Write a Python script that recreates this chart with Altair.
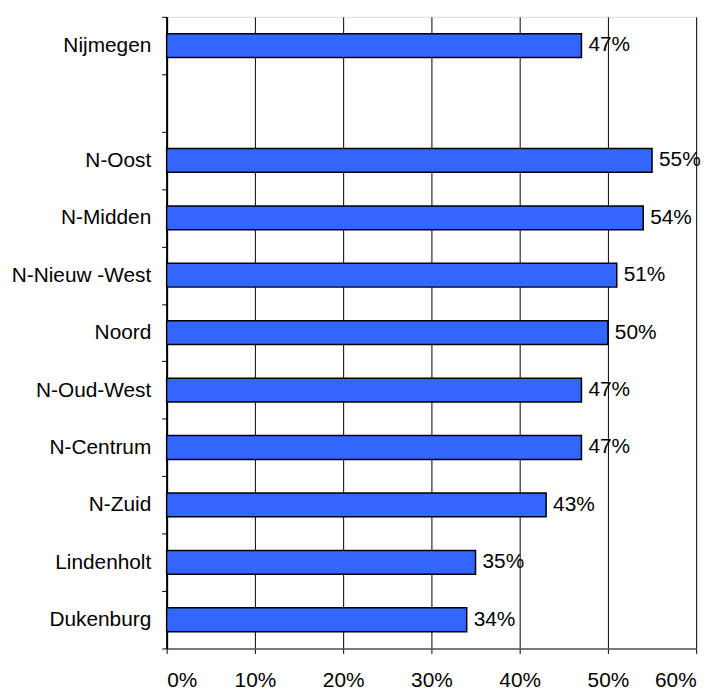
import altair as alt
import pandas as pd

categories = ["Nijmegen", " ", "N-Oost", "N-Midden", "N-Nieuw -West", "Noord",
              "N-Oud-West", "N-Centrum", "N-Zuid", "Lindenholt", "Dukenburg"]
bar_categories = ["Nijmegen", "N-Oost", "N-Midden", "N-Nieuw -West", "Noord",
                  "N-Oud-West", "N-Centrum", "N-Zuid", "Lindenholt", "Dukenburg"]
values = [0.47, 0.55, 0.54, 0.51, 0.50, 0.47, 0.47, 0.43, 0.35, 0.34]
x_ticks = [0, 0.1, 0.2, 0.3, 0.4, 0.5, 0.6]

df = pd.DataFrame({"wijk": bar_categories, "waarde": values})

FONT = "Liberation Sans"
FS = 21

y_enc = alt.Y("wijk:N", sort=categories,
              scale=alt.Scale(domain=categories, paddingInner=0, paddingOuter=0),
              axis=alt.Axis(title=None, tickBand="extent", labelFontSize=FS,
                            labelFont=FONT, labelColor="black", labelPadding=11,
                            tickSize=5, tickColor="black", domainColor="black",
                            domainWidth=2, grid=False))
x_enc = alt.X("waarde:Q",
              scale=alt.Scale(domain=[0, 0.6], nice=False),
              axis=alt.Axis(title=None, format="%", values=x_ticks, labelFontSize=FS,
                            labelFont=FONT, labelColor="black", labelPadding=16,
                            tickSize=5, tickColor="black", domainColor="#555555",
                            domainWidth=1.5, grid=True, gridColor="black",
                            gridWidth=1, gridOpacity=1))

bars = alt.Chart(df).mark_bar(size=24, color="#3366FF", stroke="black",
                              strokeWidth=1.5).encode(x=x_enc, y=y_enc)

labels = alt.Chart(df).mark_text(align="left", baseline="middle", dx=7,
                                 fontSize=FS, font=FONT, color="black").encode(
    x="waarde:Q",
    y=alt.Y("wijk:N", sort=categories),
    text=alt.Text("waarde:Q", format=".0%"),
)

chart = (bars + labels).properties(
    width=534, height=637,
    autosize=alt.AutoSizeParams(type="none"),
    padding={"left": 160, "top": 6, "right": 20, "bottom": 40},
).configure_view(stroke="#a0a0a0", strokeWidth=2).configure(background="white")

chart.save("out.html", embed_options={"renderer": "svg", "actions": False})
